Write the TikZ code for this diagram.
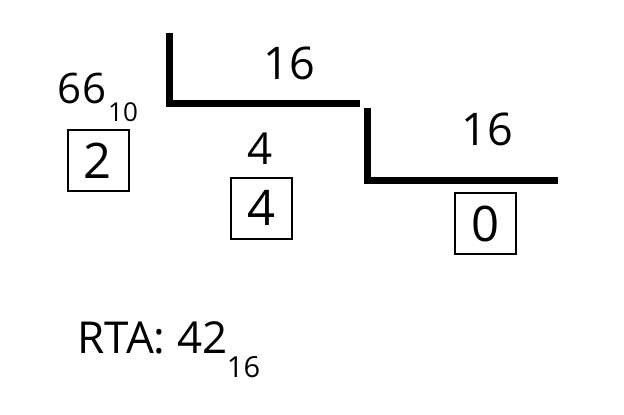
\documentclass[tikz,border=0pt]{standalone}
\usepackage{fontspec}
\setmainfont{Open Sans}
\usetikzlibrary{positioning}

\begin{document}
\begin{tikzpicture}[x=1pt, y=-1pt,
  num/.style={inner sep=0pt, font=\fontsize{45}{50}\selectfont},
  sub/.style={inner sep=0pt, font=\fontsize{26}{30}\selectfont},
  resto/.style={draw, line width=2pt, minimum size=61pt, inner sep=0pt,
                font=\fontsize{49}{54}\selectfont},
  galera/.style={line width=7pt},
]
  \useasboundingbox (0,0) rectangle (624,415);
  % Dividendo
  \node[num, font=\fontsize{42}{48}\selectfont] (n66) at (82,88.5) {66};
  \node[sub] (b10) at (123,112.5) {10};
  \node[resto] (r2) at (98,160.5) {2};
  % Primera division
  \coordinate (g1a) at (169,33);
  \coordinate (g1b) at (169,103.5);
  \coordinate (g1c) at (360,103.5);
  \draw[galera] (g1a) -- (g1b) -- (g1c);
  \node[num] (d1) at (289.5,63) {16};
  \node[num, font=\fontsize{44}{50}\selectfont] (c1) at (260,149) {4};
  \node[resto] (r4) at (261.5,208) {4};
  % Segunda division
  \coordinate (g2a) at (367,108);
  \coordinate (g2b) at (367,180.5);
  \coordinate (g2c) at (558,180.5);
  \draw[galera] (g2a) -- (g2b) -- (g2c);
  \node[num] (d2) at (487.5,129) {16};
  \node[resto] (r0) at (485.5,223.5) {0};
  % Resultado
  \node[num, font=\fontsize{44}{50}\selectfont] (rta) at (152.5,338) {RTA: 42};
  \node[sub, font=\fontsize{29}{34}\selectfont] (b16) at (243.5,367.5) {16};
\end{tikzpicture}
\end{document}
